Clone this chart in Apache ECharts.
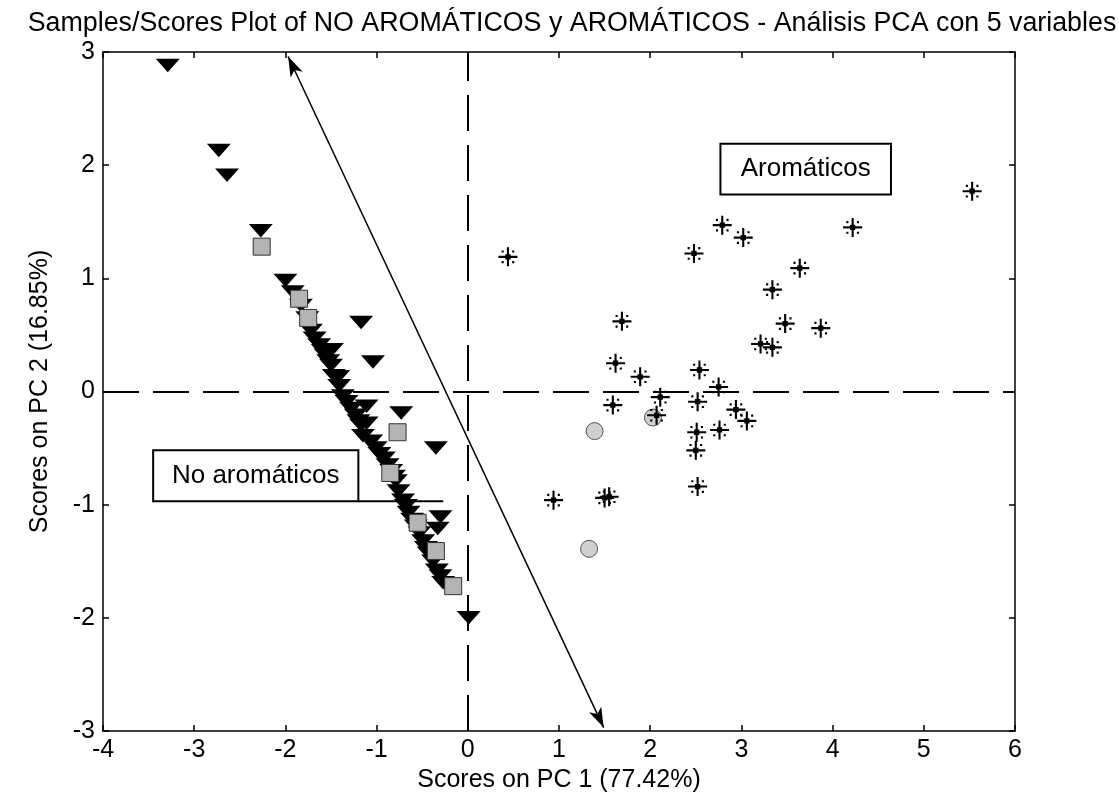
<!DOCTYPE html>
<html>
<head>
<meta charset="utf-8">
<script src="https://cdn.jsdelivr.net/npm/echarts@6/dist/echarts.min.js"></script>
<style>
  html, body { margin: 0; padding: 0; background: #fff; }
  #chart { width: 1119px; height: 802px; }
</style>
</head>
<body>
<div id="chart"></div>
<script>
// PCA scores: PC1 (x) vs PC2 (y)
const titleText = 'Samples/Scores Plot of NO AROMÁTICOS y AROMÁTICOS - Análisis PCA con 5 variables';
const xName = 'Scores on PC 1 (77.42%)';
const yName = 'Scores on PC 2 (16.85%)';
const xRange = [-4, 6];
const yRange = [-3, 3];
const tickStep = 1;

// Non-aromatic samples (filled down-triangles)
const noAromaticos = [
  [-3.29, 2.88], [-2.73, 2.13], [-2.64, 1.91], [-2.27, 1.42], [-2.00, 0.98],
  [-1.92, 0.88], [-1.83, 0.76], [-1.76, 0.65], [-1.72, 0.54], [-1.68, 0.47],
  [-1.63, 0.41], [-1.59, 0.36], [-1.56, 0.32], [-1.49, 0.37], [-1.53, 0.27],
  [-1.50, 0.23], [-1.47, 0.14], [-1.42, 0.13], [-1.41, 0.05], [-1.37, -0.04],
  [-1.33, -0.09], [-1.28, -0.15], [-1.23, -0.21], [-1.11, -0.13], [-1.11, -0.28],
  [-1.20, -0.26], [-1.17, -0.30], [-1.15, -0.39], [-1.06, -0.44], [-1.01, -0.50],
  [-0.97, -0.55], [-0.92, -0.59], [-0.88, -0.65], [-0.84, -0.70], [-0.81, -0.75],
  [-0.79, -0.79], [-0.76, -0.88], [-0.71, -0.96], [-0.68, -1.01], [-0.65, -1.07],
  [-0.61, -1.13], [-0.57, -1.19], [-0.53, -1.25], [-0.49, -1.32], [-0.46, -1.38],
  [-0.43, -1.43], [-0.38, -1.50], [-0.34, -1.58], [-0.30, -1.63], [-0.27, -1.69],
  [-1.17, 0.61], [-1.04, 0.26], [-0.73, -0.19], [-0.35, -0.50], [-0.30, -1.11],
  [-0.33, -1.21], [0.01, -2.00]
];
// Non-aromatic samples (grey squares)
const noAromaticosSq = [
  [-2.26, 1.28], [-1.85, 0.82], [-1.75, 0.65], [-0.77, -0.36], [-0.85, -0.72],
  [-0.55, -1.16], [-0.35, -1.41], [-0.16, -1.72]
];
// Aromatic samples (asterisks)
const aromaticos = [
  [0.44, 1.19], [2.48, 1.22], [2.79, 1.47], [3.02, 1.36], [4.22, 1.45],
  [5.53, 1.77], [3.64, 1.09], [3.34, 0.90], [3.48, 0.60], [3.87, 0.56],
  [3.21, 0.42], [3.34, 0.39], [1.69, 0.62], [1.62, 0.25], [1.89, 0.13],
  [2.54, 0.19], [2.75, 0.04], [2.11, -0.05], [1.59, -0.12], [2.52, -0.09],
  [2.94, -0.16], [3.06, -0.26], [2.51, -0.36], [2.76, -0.34], [2.50, -0.52],
  [2.52, -0.84], [0.94, -0.96], [1.50, -0.94], [1.55, -0.93], [2.07, -0.21]
];
// Aromatic samples (grey circles)
const aromaticosCirc = [
  [1.39, -0.35], [2.03, -0.23], [1.33, -1.39]
];
// Separation direction arrow (double headed)
const separationArrow = [[-1.97, 2.96], [1.49, -2.97]];

// Group labels: text, box corners (data units), optional leader end x
const groupLabels = [
  { text: 'No aromáticos', from: [-3.45, -0.52], to: [-1.20, -0.97], leaderTo: -0.27 },
  { text: 'Aromáticos', from: [2.77, 2.19], to: [4.64, 1.74] }
];

const FONT = 'Liberation Sans, Arial, sans-serif';
const starPath = 'path://M8,0h2v18h-2z M0,8h18v2h-18z M3,3h2v2h-2z M13,3h2v2h-2z M3,13h2v2h-2z M13,13h2v2h-2z M6.5,6.5h5v5h-5z';
const triPath = 'path://M0,0 L24,0 L12,18 Z';

const chart = echarts.init(document.getElementById('chart'), null, { renderer: 'canvas' });

const axisCommon = {
  type: 'value',
  interval: tickStep,
  splitLine: { show: false },
  axisLine: { show: true, onZero: false, lineStyle: { color: '#000', width: 1.5 } },
  axisTick: { show: true, inside: true, length: 6, lineStyle: { color: '#000', width: 1.5 } }
};

const option = {
  backgroundColor: '#fff',
  animation: false,
  title: {
    text: titleText,
    left: 567,
    textAlign: 'center',
    top: 5,
    textStyle: { fontFamily: FONT, fontSize: 26.8, fontWeight: 'normal', color: '#000' }
  },
  grid: { left: 103, right: 104, top: 52, bottom: 71, containLabel: false },
  xAxis: [
    Object.assign({}, axisCommon, {
      min: xRange[0], max: xRange[1], position: 'bottom',
      name: xName, nameLocation: 'middle', nameGap: 36,
      nameTextStyle: { fontFamily: FONT, fontSize: 25, color: '#000' },
      axisLabel: { fontFamily: FONT, fontSize: 25, color: '#000', margin: 7 }
    }),
    Object.assign({}, axisCommon, {
      min: xRange[0], max: xRange[1], position: 'top', axisLabel: { show: false }
    })
  ],
  yAxis: [
    Object.assign({}, axisCommon, {
      min: yRange[0], max: yRange[1], position: 'left',
      name: yName, nameLocation: 'middle', nameGap: 50,
      nameTextStyle: { fontFamily: FONT, fontSize: 25, color: '#000' },
      axisLabel: { fontFamily: FONT, fontSize: 25, color: '#000', margin: 8 }
    }),
    Object.assign({}, axisCommon, {
      min: yRange[0], max: yRange[1], position: 'right', axisLabel: { show: false }
    })
  ],
  series: [
    {
      name: 'ejes',
      type: 'scatter',
      data: [],
      silent: true,
      markLine: {
        silent: true,
        symbol: 'none',
        label: { show: false },
        lineStyle: { color: '#000', width: 2, type: [36, 14] },
        data: [{ xAxis: 0 }, { yAxis: 0 }]
      }
    },
    {
      name: 'NO AROMÁTICOS',
      type: 'scatter',
      symbol: triPath,
      symbolSize: [24, 18],
      symbolKeepAspect: true,
      itemStyle: { color: '#000', opacity: 1 },
      data: noAromaticos,
      z: 3
    },
    {
      name: 'NO AROMÁTICOS (2)',
      type: 'scatter',
      symbol: 'rect',
      symbolSize: 17,
      itemStyle: { color: '#b4b4b4', borderColor: '#333', borderWidth: 1, opacity: 1 },
      data: noAromaticosSq,
      z: 4
    },
    {
      name: 'AROMÁTICOS (2)',
      type: 'scatter',
      symbol: 'circle',
      symbolSize: 17,
      itemStyle: { color: '#cfcfcf', borderColor: '#555', borderWidth: 1, opacity: 1 },
      data: aromaticosCirc,
      z: 4
    },
    {
      name: 'AROMÁTICOS',
      type: 'scatter',
      symbol: starPath,
      symbolSize: 19,
      symbolKeepAspect: true,
      itemStyle: { color: '#000', opacity: 1 },
      data: aromaticos,
      z: 5
    },
    {
      name: 'flecha',
      type: 'scatter',
      data: [],
      silent: true,
      markLine: {
        silent: true,
        symbol: ['arrow', 'arrow'],
        symbolSize: [10, 20],
        label: { show: false },
        lineStyle: { color: '#000', width: 1.5, type: 'solid' },
        data: [[{ coord: separationArrow[0] }, { coord: separationArrow[1] }]]
      },
      z: 6
    }
  ]
};

chart.setOption(option);

// Boxed group labels positioned in data units
function drawLabels() {
  const elements = [];
  groupLabels.forEach(function (g) {
    const p0 = chart.convertToPixel({ gridIndex: 0 }, g.from);
    const p1 = chart.convertToPixel({ gridIndex: 0 }, g.to);
    const x = Math.min(p0[0], p1[0]), y = Math.min(p0[1], p1[1]);
    const w = Math.abs(p1[0] - p0[0]), h = Math.abs(p1[1] - p0[1]);
    elements.push({
      type: 'rect', z: 10,
      shape: { x: x, y: y, width: w, height: h },
      style: { fill: '#fff', stroke: '#000', lineWidth: 2 }
    });
    elements.push({
      type: 'text', z: 11,
      style: {
        x: x + w / 2, y: y + h / 2, text: g.text,
        font: '26px ' + FONT, fill: '#000', align: 'center', verticalAlign: 'middle'
      }
    });
    if (g.leaderTo !== undefined) {
      const pe = chart.convertToPixel({ gridIndex: 0 }, [g.leaderTo, g.to[1]]);
      elements.push({
        type: 'line', z: 10,
        shape: { x1: x + w, y1: y + h, x2: pe[0], y2: y + h },
        style: { stroke: '#000', lineWidth: 2 }
      });
    }
  });
  chart.setOption({ graphic: elements });
}
drawLabels();
</script>
</body>
</html>
